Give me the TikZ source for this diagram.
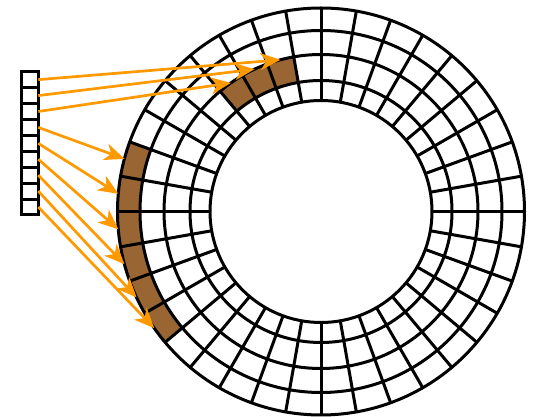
\documentclass[tikz,border=0pt]{standalone}
\usetikzlibrary{arrows.meta}
\definecolor{arrorange}{RGB}{255,153,0}
\definecolor{cellbrown}{RGB}{153,102,51}
\tikzset{
  ringline/.style={draw=black, line width=3pt},
  cellbox/.style={draw=black, fill=white, line width=3pt, minimum width=16.6pt, minimum height=15.9pt, inner sep=0pt, outer sep=0pt},
  mapArrow/.style={draw=arrorange, line width=2.7pt, -{Stealth[length=20pt, width=17pt, inset=6pt]}},
  hot/.style={fill=cellbrown}
}
\begin{document}
\begin{tikzpicture}[x=1pt, y=1pt]
\useasboundingbox (0,0) rectangle (533,417);
\begin{scope}[shift={(321,205.5)}]
  % highlighted cells
  \fill[hot] (100:131) arc[start angle=100, end angle=130, radius=131] -- (130:157) arc[start angle=130, end angle=100, radius=157] -- cycle;
  \fill[hot] (160:181) arc[start angle=160, end angle=220, radius=181] -- (220:203.5) arc[start angle=220, end angle=160, radius=203.5] -- cycle;
  % rings
  \foreach \r in {111,131,157,181,203.5} \draw[ringline] (0,0) circle[radius=\r];
  % spokes
  \foreach \a in {0,10,...,350} \draw[ringline] (\a:111) -- (\a:203.5);
  % targets
  \coordinate (t1) at (105:157);
  \coordinate (t2) at (115:157);
  \coordinate (t3) at (125:157);
  \coordinate (t4) at (165:203.5);
  \coordinate (t5) at (175:203.5);
  \coordinate (t6) at (185:203.5);
  \coordinate (t7) at (195:203.5);
  \coordinate (t8) at (205:203.5);
  \coordinate (t9) at (215:203.5);
\end{scope}
% vector of cells
\foreach \i in {1,...,9} {
  \node[cellbox] (a\i) at (30, {345.3 - 15.92*(\i-0.5)}) {};
}
\foreach \i in {1,...,9} {
  \draw[mapArrow] (a\i.east) -- (t\i);
}
\end{tikzpicture}
\end{document}
